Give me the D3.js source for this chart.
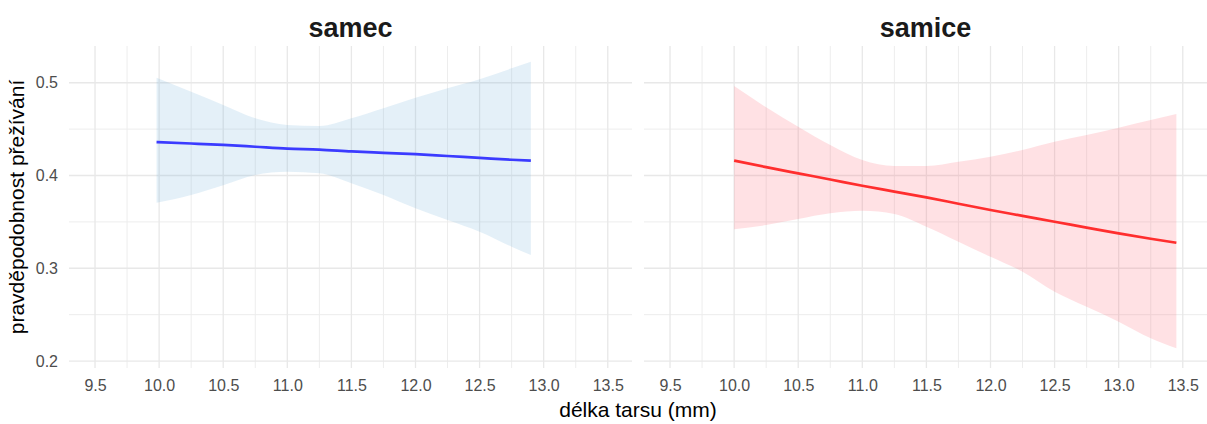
<!DOCTYPE html>
<html>
<head>
<meta charset="utf-8">
<script src="https://cdn.jsdelivr.net/npm/d3@7"></script>
<style>
  body { margin: 0; background: #fff; }
  svg { display: block; font-family: "Liberation Sans", Arial, sans-serif; }
</style>
</head>
<body>
<svg id="chart" width="1207" height="424"></svg>
<script>
// panel names
const panels = ["samec", "samice"];

// samec: fitted survival with confidence band
const samecX = [9.98, 10.25, 10.5, 10.75, 11.0, 11.25, 11.5, 11.75, 12.0, 12.25, 12.5, 12.75, 12.9];
const samecFit = [0.436, 0.4345, 0.433, 0.431, 0.429, 0.428, 0.426, 0.4245, 0.423, 0.421, 0.419, 0.417, 0.416];
const samecUpper = [0.5054, 0.4903, 0.476, 0.4616, 0.4544, 0.4533, 0.4616, 0.4724, 0.4838, 0.494, 0.5037, 0.5155, 0.5226];
const samecLower = [0.3706, 0.379, 0.3895, 0.4005, 0.404, 0.4023, 0.3916, 0.379, 0.3646, 0.352, 0.3394, 0.3232, 0.3143];

// samice
const samiceX = [10.0, 10.25, 10.5, 10.75, 11.0, 11.25, 11.5, 11.75, 12.0, 12.25, 12.5, 12.75, 13.0, 13.25, 13.45];
const samiceFit = [0.416, 0.409, 0.4023, 0.3957, 0.389, 0.3827, 0.3764, 0.3696, 0.3628, 0.3565, 0.3502, 0.3439, 0.3376, 0.3318, 0.3275];
const samiceUpper = [0.4964, 0.4735, 0.4526, 0.4328, 0.4167, 0.4102, 0.4102, 0.4148, 0.4202, 0.4275, 0.4364, 0.4436, 0.4515, 0.4598, 0.4662];
const samiceLower = [0.342, 0.3466, 0.3531, 0.3592, 0.362, 0.3585, 0.3448, 0.3286, 0.3124, 0.2963, 0.2747, 0.2585, 0.2424, 0.2245, 0.2137];

// axis ticks
const xTicks = [9.5, 10.0, 10.5, 11.0, 11.5, 12.0, 12.5, 13.0, 13.5];
const xMinor = [9.75, 10.25, 10.75, 11.25, 11.75, 12.25, 12.75, 13.25];
const yTicks = [0.2, 0.3, 0.4, 0.5];
const yMinor = [0.25, 0.35, 0.45];

const series = [
  { x: samecX, fit: samecFit, hi: samecUpper, lo: samecLower, line: "#3b3bff", band: "#6baed6" },
  { x: samiceX, fit: samiceFit, hi: samiceUpper, lo: samiceLower, line: "#ff2e2e", band: "#ff5a6a" }
];

const svg = d3.select("#chart");
const plotTop = 46, plotBottom = 368;
const panelLeft = [69, 644];
const panelW = 563;

const y = d3.scaleLinear().domain([0.1925, 0.5396]).range([plotBottom, plotTop]);

panels.forEach(function(name, i) {
  const x = d3.scaleLinear().domain([9.297, 13.689]).range([panelLeft[i], panelLeft[i] + panelW]);
  const g = svg.append("g");
  const s = series[i];

  // grid
  g.selectAll(".vmin").data(xMinor).join("line")
    .attr("x1", d => x(d)).attr("x2", d => x(d))
    .attr("y1", plotTop).attr("y2", plotBottom)
    .attr("stroke", "#ededed").attr("stroke-width", 1);
  g.selectAll(".hmin").data(yMinor).join("line")
    .attr("x1", x.range()[0]).attr("x2", x.range()[1])
    .attr("y1", d => y(d)).attr("y2", d => y(d))
    .attr("stroke", "#ededed").attr("stroke-width", 1);
  g.selectAll(".vmaj").data(xTicks).join("line")
    .attr("x1", d => x(d)).attr("x2", d => x(d))
    .attr("y1", plotTop).attr("y2", plotBottom)
    .attr("stroke", "#e8e8e8").attr("stroke-width", 1.3);
  g.selectAll(".hmaj").data(yTicks).join("line")
    .attr("x1", x.range()[0]).attr("x2", x.range()[1])
    .attr("y1", d => y(d)).attr("y2", d => y(d))
    .attr("stroke", "#e8e8e8").attr("stroke-width", 1.3);

  const idx = d3.range(s.x.length);
  const area = d3.area()
    .x(j => x(s.x[j]))
    .y0(j => y(s.lo[j]))
    .y1(j => y(s.hi[j]))
    .curve(d3.curveMonotoneX);
  g.append("path").datum(idx)
    .attr("d", area)
    .attr("fill", s.band)
    .attr("fill-opacity", 0.18);

  const line = d3.line()
    .x(j => x(s.x[j]))
    .y(j => y(s.fit[j]))
    .curve(d3.curveMonotoneX);
  g.append("path").datum(idx)
    .attr("d", line)
    .attr("fill", "none")
    .attr("stroke", s.line)
    .attr("stroke-width", 2.7);

  // x axis labels
  const ax = g.append("g")
    .attr("transform", `translate(0,${plotBottom + 2})`)
    .call(d3.axisBottom(x).tickValues(xTicks).tickFormat(d3.format(".1f")).tickSize(0).tickPadding(10));
  ax.select(".domain").remove();
  ax.selectAll("text")
    .attr("fill", "#4d4d4d")
    .style("font-size", "16px")
    .style("font-family", "Liberation Sans, Arial, sans-serif");

  // strip title
  svg.append("text")
    .attr("x", panelLeft[i] + panelW / 2)
    .attr("y", 37)
    .attr("text-anchor", "middle")
    .style("font-size", "27px")
    .style("font-weight", "bold")
    .attr("fill", "#1a1a1a")
    .text(name);

  if (i === 0) {
    const ay = svg.append("g")
      .attr("transform", `translate(${panelLeft[0] - 3},0)`)
      .call(d3.axisLeft(y).tickValues(yTicks).tickFormat(d3.format(".1f")).tickSize(0).tickPadding(8));
    ay.select(".domain").remove();
    ay.selectAll("text")
      .attr("fill", "#4d4d4d")
      .style("font-size", "16px")
      .style("font-family", "Liberation Sans, Arial, sans-serif");
  }
});

// axis titles
svg.append("text")
  .attr("x", (panelLeft[0] + panelLeft[1] + panelW) / 2)
  .attr("y", 417)
  .attr("text-anchor", "middle")
  .style("font-size", "21px")
  .attr("fill", "#000")
  .text("délka tarsu (mm)");

svg.append("text")
  .attr("transform", `translate(24,${(plotTop + plotBottom) / 2}) rotate(-90)`)
  .attr("text-anchor", "middle")
  .style("font-size", "21px")
  .attr("fill", "#000")
  .text("pravděpodobnost přežívání");
</script>
</body>
</html>
